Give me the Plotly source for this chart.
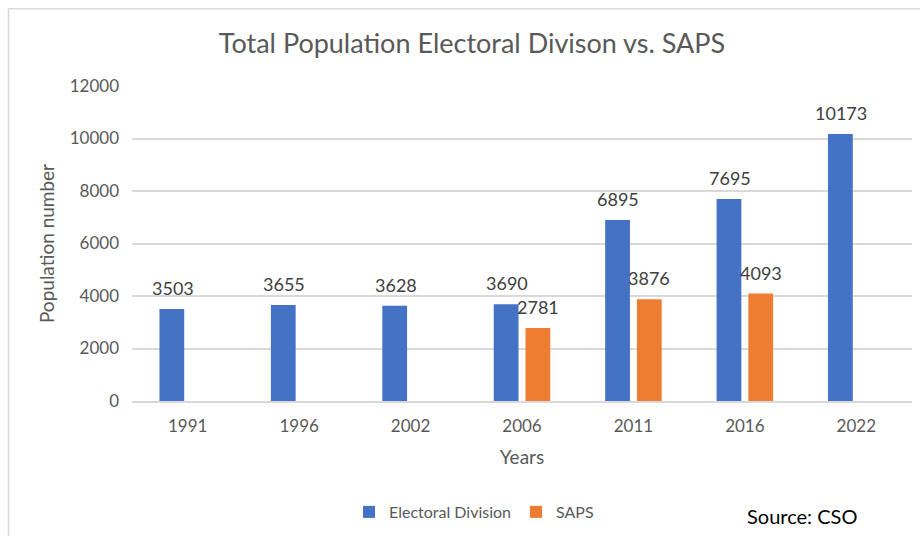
import plotly.graph_objects as go

# Census years and population counts
years = ["1991", "1996", "2002", "2006", "2011", "2016", "2022"]
electoral_division = [3503, 3655, 3628, 3690, 6895, 7695, 10173]
saps = [None, None, None, 2781, 3876, 4093, None]

BLUE = "#4472C4"
ORANGE = "#ED7D31"
TEXT = "#595959"
GRID = "#D9D9D9"
FONT = "Lato, Open Sans, sans-serif"

W, H = 920, 536
L, R, T, B = 132, 8, 86, 134
plot_w = W - L - R
plot_h = H - T - B

fig = go.Figure()
fig.add_trace(go.Bar(x=years, y=electoral_division, name="Electoral Division",
                     marker=dict(color=BLUE, line=dict(width=0))))
fig.add_trace(go.Bar(x=years, y=saps, name="SAPS",
                     marker=dict(color=ORANGE, line=dict(width=0))))

# Value labels above each bar
offsets = {0: -15, 1: 16}
annotations = []
for si, series in enumerate([electoral_division, saps]):
    for i, (yr, v) in enumerate(zip(years, series)):
        if v is None:
            continue
        annotations.append(dict(
            x=i, y=v, xref="x", yref="y", text=str(v), showarrow=False,
            xshift=offsets[si], yanchor="bottom", yshift=8,
            font=dict(family=FONT, size=18, color="#404040")))

def px_to_paper_x(px):
    return (px - L) / plot_w

def px_to_paper_y(py):
    return (H - B - py) / plot_h

annotations.append(dict(
    x=px_to_paper_x(802), y=px_to_paper_y(517), xref="paper", yref="paper",
    text="Source: CSO", showarrow=False, xanchor="center", yanchor="middle",
    font=dict(family=FONT, size=20, color="#000000")))

# Chart-area frame (top and left edges visible)
shapes = [
    dict(type="line", xref="paper", yref="paper",
         x0=px_to_paper_x(8), x1=px_to_paper_x(925),
         y0=px_to_paper_y(8.5), y1=px_to_paper_y(8.5),
         line=dict(color="#D9D9D9", width=1.5)),
    dict(type="line", xref="paper", yref="paper",
         x0=px_to_paper_x(8.5), x1=px_to_paper_x(8.5),
         y0=px_to_paper_y(8), y1=px_to_paper_y(545),
         line=dict(color="#D9D9D9", width=1.5)),
]

fig.update_layout(
    width=W, height=H,
    margin=dict(l=L, r=R, t=T, b=B),
    paper_bgcolor="white", plot_bgcolor="white",
    barmode="group", bargap=0.43, bargroupgap=0.22,
    title=dict(text="Total Population Electoral Divison vs. SAPS",
               x=472 / W, xref="container", xanchor="center",
               y=1 - 44 / H, yanchor="middle",
               font=dict(family=FONT, size=27, color=TEXT)),
    font=dict(family=FONT, color=TEXT),
    xaxis=dict(title=dict(text="Years", font=dict(size=19, color=TEXT), standoff=16),
               tickfont=dict(size=17, color=TEXT), showgrid=False,
               showline=True, linecolor=GRID, linewidth=1.5, ticks="",
               ticklabelstandoff=9),
    yaxis=dict(title=dict(text="Population number", font=dict(size=19, color=TEXT), standoff=10),
               range=[0, 12000], dtick=2000, tickformat="d",
               tickfont=dict(size=17, color=TEXT),
               showgrid=True, gridcolor=GRID, gridwidth=1.5, zeroline=False,
               ticks="", ticklabelstandoff=12),
    legend=dict(orientation="h", x=px_to_paper_x(474), xanchor="center",
                y=px_to_paper_y(512), yanchor="middle",
                font=dict(family=FONT, size=16, color=TEXT),
                itemwidth=30, tracegroupgap=0),
    annotations=annotations,
    shapes=shapes,
)

fig.write_html("out.html")
